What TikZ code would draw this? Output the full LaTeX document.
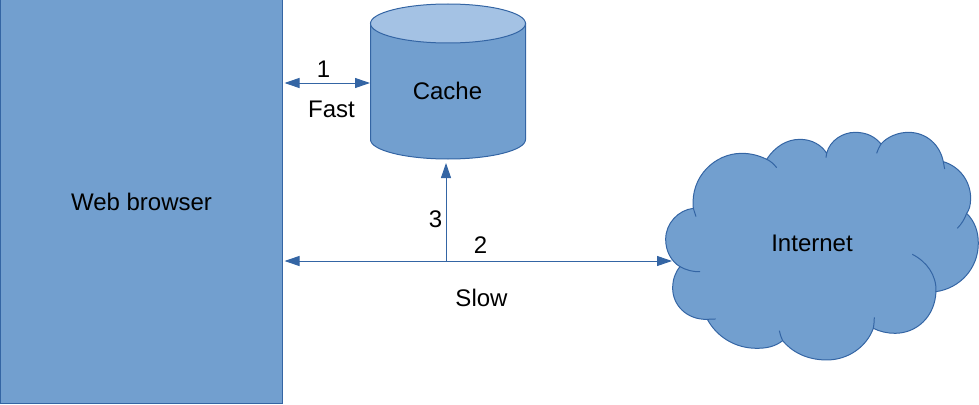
\documentclass[tikz,border=0pt]{standalone}
\usepackage{fontspec}
\setmainfont{Liberation Sans}
\usetikzlibrary{arrows.meta}
\definecolor{shapefill}{HTML}{729FCF}
\definecolor{shapeline}{HTML}{3465A4}
\definecolor{shapetop}{HTML}{A4C2E4}
\tikzset{
  lbl/.style={font=\fontsize{24}{28}\selectfont,text=black,inner sep=0pt},
  shapestyle/.style={draw=shapeline,fill=shapefill,line width=1pt},
  conn/.style={draw=shapeline,line width=1pt,-{Triangle[length=15pt,width=10pt,fill=shapeline]}},
  conntwo/.style={draw=shapeline,line width=1pt,{Triangle[length=15pt,width=10pt,fill=shapeline]}-{Triangle[length=15pt,width=10pt,fill=shapeline]}},
}
\begin{document}
\begin{tikzpicture}[x=1pt,y=-1pt]
\useasboundingbox (0,0) rectangle (979,404);
\node[shapestyle,minimum width=282.5pt,minimum height=403.5pt,inner sep=0pt,outer sep=0pt,anchor=north west,lbl] (browser) at (0,0) {};
\node[lbl] (browserlabel) at (141.5,202) {Web browser};
% cache
\path[shapestyle] (370.5,23.5) -- (370.5,139.5)
  .. controls (370.5,150.3) and (405.2,159) .. (448,159)
  .. controls (490.8,159) and (525.5,150.3) .. (525.5,139.5)
  -- (525.5,23.5) -- cycle;
\path[draw=shapeline,fill=shapetop,line width=1pt] (370.5,23.5)
  .. controls (370.5,12.7) and (405.2,4) .. (448,4)
  .. controls (490.8,4) and (525.5,12.7) .. (525.5,23.5)
  .. controls (525.5,34.3) and (490.8,43) .. (448,43)
  .. controls (405.2,43) and (370.5,34.3) .. (370.5,23.5) -- cycle;
\node[lbl] (cachelabel) at (447.5,91) {Cache};
% cloud
\begin{scope}[shift={(650,120)},x=0.3333pt,y=-0.3333pt]
\path[shapestyle] (130,265) .. controls (120,170) and (195,100) .. (275,100)
 .. controls (305,100) and (330,108) .. (350,118)
 .. controls (375,80) and (410,58) .. (450,58)
 .. controls (485,58) and (515,75) .. (530,100)
 .. controls (540,60) and (580,37) .. (615,37)
 .. controls (650,37) and (675,50) .. (693,72)
 .. controls (712,50) and (745,37) .. (775,37)
 .. controls (830,37) and (870,75) .. (880,125)
 .. controls (930,140) and (962,185) .. (962,235)
 .. controls (962,255) and (958,270) .. (950,280)
 .. controls (975,305) and (985,335) .. (985,370)
 .. controls (985,445) and (930,505) .. (858,515)
 .. controls (855,590) and (800,640) .. (735,640)
 .. controls (712,640) and (690,635) .. (670,625)
 .. controls (650,680) and (595,720) .. (530,720)
 .. controls (470,720) and (425,695) .. (398,662)
 .. controls (375,680) and (350,685) .. (320,685)
 .. controls (255,685) and (200,650) .. (172,598)
 .. controls (110,600) and (68,555) .. (68,505)
 .. controls (68,480) and (75,458) .. (90,440)
 .. controls (65,425) and (47,395) .. (47,358)
 .. controls (47,310) and (85,270) .. (130,265) -- cycle;
\draw[draw=shapeline,line width=1pt]
 (350,118) .. controls (362,123) and (372,133) .. (380,143)
 (530,100) -- (528,113)
 (693,72) .. controls (688,80) and (683,90) .. (680,100)
 (880,125) -- (884,147)
 (950,280) .. controls (945,295) and (935,312) .. (922,325)
 (858,515) .. controls (860,465) and (830,425) .. (787,403)
 (670,625) .. controls (672,612) and (673,602) .. (673,592)
 (398,662) .. controls (393,652) and (390,642) .. (388,632)
 (172,598) -- (197,597)
 (90,440) .. controls (108,450) and (128,456) .. (150,455)
 (130,265) -- (138,290);
\end{scope}
\node[lbl] (internet) at (812,243) {Internet};
% connector ends
\coordinate (fastL) at (284.5,83);
\coordinate (fastR) at (370,83);
\coordinate (slowL) at (284.5,261);
\coordinate (slowR) at (672,261);
\coordinate (junction) at (446,261);
\coordinate (cacheIn) at (446,163);
\draw[conntwo] (fastL) -- (fastR);
\draw[conntwo] (slowL) -- (slowR);
\draw[conn] (junction) -- (cacheIn);
\node[lbl] (one) at (323.5,69) {1};
\node[lbl] (fast) at (331.5,109) {Fast};
\node[lbl] (three) at (435.5,219) {3};
\node[lbl] (two) at (480.5,245) {2};
\node[lbl] (slow) at (481.5,298) {Slow};
\end{tikzpicture}
\end{document}
